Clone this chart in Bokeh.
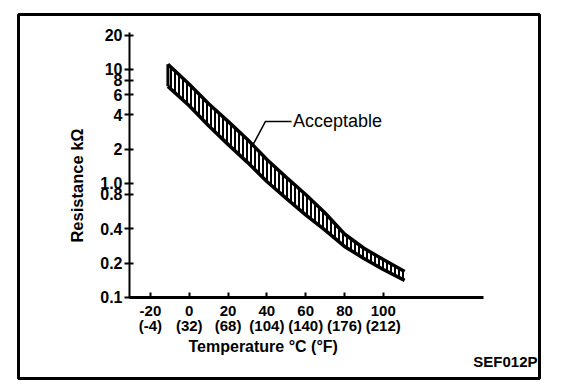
from bokeh.plotting import figure
from bokeh.models import FixedTicker, Label, Range1d
from bokeh.embed import file_html
from bokeh.resources import INLINE
import math

# ---- data ----
temps = [-11, 0, 10, 20, 30, 40, 50, 60, 70, 80, 90, 100, 111]
upper = [11.1, 7.4, 5.0, 3.5, 2.43, 1.62, 1.13, 0.80, 0.55, 0.36, 0.27, 0.215, 0.169]
lower = [7.1, 4.8, 3.2, 2.2, 1.53, 1.04, 0.74, 0.53, 0.39, 0.28, 0.22, 0.176, 0.141]

x_ticks = [-20, 0, 20, 40, 60, 80, 100]
x_tick_labels = ["-20\n(-4)", "0\n(32)", "20\n(68)", "40\n(104)", "60\n(140)", "80\n(176)", "100\n(212)"]
y_ticks = [0.1, 0.2, 0.4, 0.8, 1.0, 2, 4, 6, 8, 10, 20]
y_tick_labels = ["0.1", "0.2", "0.4", "0.8", "1.0", "2", "4", "6", "8", "10", "20"]

x_axis_bounds = (-30.8, 151.6)
y_axis_bounds = (0.1, 21.1)

leader_t = [32.3, 39.3, 52.7]
leader_r = [2.1, 3.5, 3.5]
annot_text = "Acceptable"
x_title = "Temperature °C (°F)"
y_title = "Resistance kΩ"
code_text = "SEF012P"

FONT = "Liberation Sans"

# the plot frame is the outer bordered box; axes sit inside it at fixed locations
p = figure(width=560, height=381, x_range=Range1d(-88.0, 180.5), y_range=Range1d(0.01946, 30.3),
           y_axis_type="log", output_backend="svg", toolbar_location=None,
           min_border_left=18, min_border_top=14, min_border_right=21, min_border_bottom=3)
p.grid.visible = False
p.outline_line_color = "black"
p.outline_line_width = 3
p.background_fill_color = "white"
p.border_fill_color = "white"

# axes
p.xaxis.fixed_location = y_axis_bounds[0]
p.xaxis.bounds = x_axis_bounds
p.xaxis.ticker = FixedTicker(ticks=x_ticks)
p.xaxis.major_label_overrides = {t: s for t, s in zip(x_ticks, x_tick_labels)}
p.xaxis.axis_line_width = 3
p.xaxis.major_tick_in = 5
p.xaxis.major_tick_out = 0
p.xaxis.major_tick_line_width = 2
p.xaxis.minor_tick_line_color = None
p.xaxis.major_label_standoff = 5
p.xaxis.major_label_text_font = FONT
p.xaxis.major_label_text_font_style = "bold"
p.xaxis.major_label_text_font_size = "15px"
p.xaxis.major_label_text_line_height = 0.85
p.xaxis.major_label_text_color = "black"

p.yaxis.fixed_location = x_axis_bounds[0]
p.yaxis.bounds = y_axis_bounds
p.yaxis.ticker = FixedTicker(ticks=y_ticks)
p.yaxis.major_label_overrides = {t: s for t, s in zip(y_ticks, y_tick_labels)}
p.yaxis.axis_line_width = 2
p.yaxis.major_tick_in = 4
p.yaxis.major_tick_out = 5
p.yaxis.major_tick_line_width = 2
p.yaxis.minor_tick_line_color = None
p.yaxis.major_label_standoff = 2
p.yaxis.major_label_text_font = FONT
p.yaxis.major_label_text_font_style = "bold"
p.yaxis.major_label_text_font_size = "16px"
p.yaxis.major_label_text_color = "black"

# hatched band
p.varea(x=temps, y1=lower, y2=upper, fill_alpha=0, hatch_pattern="vertical_line",
        hatch_color="black", hatch_weight=2, hatch_scale=4)
p.line(x=temps, y=upper, line_color="black", line_width=3.5)
p.line(x=temps, y=lower, line_color="black", line_width=3.5)
p.line(x=[temps[0], temps[0]], y=[lower[0], upper[0]], line_color="black", line_width=3)

# leader + annotation
p.line(x=leader_t, y=leader_r, line_color="black", line_width=1.5)
p.add_layout(Label(x=leader_t[-1] + 0.8, y=leader_r[-1], text=annot_text, text_font=FONT,
                   text_font_size="18px", text_baseline="middle", text_align="left",
                   text_color="black"))

# titles (screen units: relative to frame left / bottom)
p.add_layout(Label(x=170, y=32, x_units="screen", y_units="screen", text=x_title,
                   text_font=FONT, text_font_size="16px", text_font_style="bold",
                   text_align="left", text_baseline="middle", text_color="black"))
p.add_layout(Label(x=58, y=193, x_units="screen", y_units="screen", text=y_title,
                   angle=math.pi / 2, text_font=FONT, text_font_size="16.5px",
                   text_font_style="bold", text_align="center", text_baseline="middle",
                   text_color="black"))
p.add_layout(Label(x=519, y=17, x_units="screen", y_units="screen", text=code_text,
                   text_font=FONT, text_font_size="15px", text_font_style="bold",
                   text_align="right", text_baseline="middle", text_color="black"))

open("out.html", "w").write(file_html(p, INLINE))
